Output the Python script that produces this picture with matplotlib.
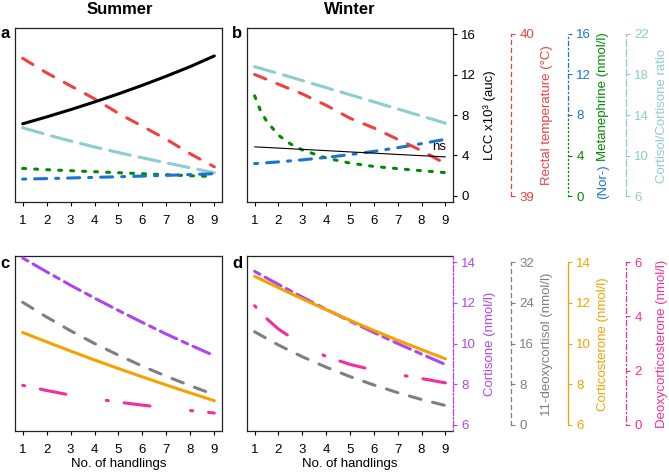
import matplotlib
matplotlib.use('Agg')
import matplotlib.pyplot as plt

plt.rcParams.update({
    'font.family': ['Liberation Sans', 'DejaVu Sans'],
    'font.size': 9.5,
    'lines.scale_dashes': False,
    'lines.dash_capstyle': 'round',
    'lines.solid_capstyle': 'round',
})

# ---- data ----
handlings = [1, 2, 3, 4, 5, 6, 7, 8, 9]

summer_lcc = [7.13, 7.81, 8.53, 9.29, 10.09, 10.94, 11.84, 12.79, 13.84]
summer_rectal = [39.85, 39.76, 39.68, 39.60, 39.51, 39.43, 39.35, 39.26, 39.18]
summer_metaneph = [2.72, 2.6, 2.5, 2.4, 2.3, 2.2, 2.1, 2.0, 1.93]
summer_normet = [1.67, 1.72, 1.78, 1.84, 1.9, 1.97, 2.04, 2.12, 2.2]
summer_ratio = [12.74, 12.06, 11.43, 10.84, 10.29, 9.77, 9.27, 8.78, 8.30]

winter_lcc = [4.85, 4.73, 4.6, 4.48, 4.35, 4.23, 4.1, 3.98, 3.86]
winter_rectal = [39.75, 39.69, 39.63, 39.56, 39.48, 39.42, 39.35, 39.28, 39.20]
winter_metaneph_x = [1, 1.25, 1.5, 2, 2.5, 3, 4, 5, 6, 7, 8, 9]
winter_metaneph = [9.9, 8.4, 7.4, 6.0, 5.15, 4.55, 3.75, 3.25, 2.92, 2.7, 2.5, 2.31]
winter_normet = [3.2, 3.37, 3.57, 3.81, 4.09, 4.41, 4.77, 5.17, 5.6]
winter_ratio = [18.77, 18.1, 17.4, 16.7, 16.0, 15.3, 14.6, 13.9, 13.19]

summer_cortisone = [14.2, 13.52, 12.86, 12.23, 11.62, 11.03, 10.46, 9.92, 9.4]
summer_deoxycortisol = [24.1, 21.2, 18.5, 16.0, 13.7, 11.55, 9.55, 7.7, 5.94]
summer_corticosterone = [10.54, 10.08, 9.63, 9.19, 8.77, 8.36, 7.96, 7.57, 7.19]
summer_doc = [1.46, 1.27, 1.1, 0.97, 0.84, 0.73, 0.63, 0.53, 0.44]

winter_cortisone = [13.54, 12.9, 12.28, 11.68, 11.1, 10.54, 10.0, 9.48, 8.97]
winter_deoxycortisol = [18.3, 15.7, 13.4, 11.35, 9.5, 7.85, 6.35, 5.0, 3.83]
winter_corticosterone = [13.3, 12.74, 12.19, 11.66, 11.14, 10.64, 10.16, 9.7, 9.25]
winter_doc_x = [1, 1.5, 2, 3, 4, 5, 6, 7, 8, 9]
winter_doc = [4.39, 3.92, 3.53, 2.95, 2.52, 2.23, 2.02, 1.86, 1.71, 1.55]

# ---- styles ----
red = '#F04040'
green = '#008B00'
blue = '#1874CD'
teal = '#8ECDCD'
purple = '#AE46F0'
gray = '#7F7F7F'
orange = '#F5A200'
pink = '#F72C9C'

PT = 72 / 100.0  # points per pixel


def dash(*px):
    return (0, [p * PT for p in px])


LW = 2.2
thick = {
    'rectal': dash(12, 12), 'ratio': dash(21, 9), 'metaneph': dash(3, 9),
    'normet': dash(3, 9, 12, 9), 'cortisone': dash(6, 6, 18, 6),
    'deoxycortisol': dash(12, 12), 'doc': dash(2, 16, 26, 41),
}
thin = {
    'rectal': dash(4, 4), 'ratio': dash(7, 3), 'metaneph': dash(1, 3),
    'normet': dash(1, 3, 4, 3), 'cortisone': dash(2, 2, 6, 2),
    'deoxycortisol': dash(4, 4), 'doc': dash(1, 3, 5, 3),
}

W, H = 669, 473
fig = plt.figure(figsize=(W / 100, H / 100), dpi=100)


def rect(l, t, r, b):
    return [l / W, 1 - b / H, (r - l) / W, (b - t) / H]


def px(x, y):
    return x / W, 1 - y / H


def setup_host(ax, xlabel=False):
    ax.set_xlim(0.68, 9.32)
    ax.set_xticks(handlings)
    ax.set_yticks([])
    ax.tick_params(axis='x', length=3, width=0.8, pad=6, labelsize=9.5)
    for s in ax.spines.values():
        s.set_linewidth(0.9)
        s.set_color('#222222')
    if xlabel:
        ax.set_xlabel('No. of handlings', labelpad=2)


def scale_axis(host, lo, hi, offset=None, color=None, ls='-', ticks=None, bounds=None):
    tw = host.twinx()
    pad = (hi - lo) * 0.037
    tw.set_ylim(lo - pad, hi + pad)
    for s in tw.spines.values():
        s.set_visible(False)
    tw.set_yticks([])
    if offset is not None:
        sp = tw.spines['right']
        sp.set_visible(True)
        sp.set_position(('outward', offset))
        sp.set_color(color)
        sp.set_linestyle(ls)
        sp.set_linewidth(0.9)
        if bounds is not None:
            sp.set_bounds(*bounds)
        tw.set_yticks(ticks)
        tw.tick_params(axis='y', colors=color, length=3, width=0.8, pad=3, labelsize=9.5)
    return tw


ax_a = fig.add_axes(rect(15, 28, 222, 202))
ax_b = fig.add_axes(rect(247, 28, 453, 202))
ax_c = fig.add_axes(rect(15, 256, 222, 431))
ax_d = fig.add_axes(rect(247, 256, 453, 431))

off1, off2, off3 = 58 * PT, 115 * PT, 173 * PT

# ---- top row ----
for ax, show in [(ax_a, False), (ax_b, True)]:
    t_ratio = scale_axis(ax, 6, 22, off3 if show else None, teal, thin['ratio'], [6, 10, 14, 18, 22], (6, 22))
    t_met = scale_axis(ax, 0, 16, off2 if show else None, green, thin['metaneph'], [0, 4], (0, 8))
    t_nor = scale_axis(ax, 0, 16, off2 if show else None, blue, thin['normet'], [8, 12, 16], (8, 16))
    t_rect = scale_axis(ax, 39, 40, off1 if show else None, red, thin['rectal'], [39, 40], (39, 40))
    if show:
        t_ratio.plot(handlings, winter_ratio, color=teal, lw=LW, ls=thick['ratio'])
        t_rect.plot(handlings, winter_rectal, color=red, lw=LW, ls=thick['rectal'])
        t_met.plot(winter_metaneph_x, winter_metaneph, color=green, lw=LW, ls=thick['metaneph'])
        t_nor.plot(handlings, winter_normet, color=blue, lw=LW, ls=thick['normet'])
    else:
        t_ratio.plot(handlings, summer_ratio, color=teal, lw=LW, ls=thick['ratio'])
        t_rect.plot(handlings, summer_rectal, color=red, lw=LW, ls=thick['rectal'])
        t_met.plot(handlings, summer_metaneph, color=green, lw=LW, ls=thick['metaneph'])
        t_nor.plot(handlings, summer_normet, color=blue, lw=LW, ls=thick['normet'])
    ax.set_ylim(-0.6, 16.6)
    setup_host(ax)
    ax.set_zorder(5)
    ax.patch.set_visible(False)

ax_a.plot(handlings, summer_lcc, color='black', lw=LW)
ax_b.plot(handlings, winter_lcc, color='black', lw=0.8)
ax_b.text(8.75, 4.85, 'ns', ha='center', va='center', fontsize=9.5)
ax_b.yaxis.tick_right()
ax_b.set_yticks([0, 4, 8, 12, 16])
ax_b.tick_params(axis='y', length=3, width=0.8, pad=3, labelsize=9.5)

# ---- bottom row ----
for ax, show in [(ax_c, False), (ax_d, True)]:
    t_cs = scale_axis(ax, 6, 14, 0 if show else None, purple, thin['cortisone'], [6, 8, 10, 12, 14], None)
    t_dc = scale_axis(ax, 0, 32, off1 if show else None, gray, thin['deoxycortisol'], [0, 8, 16, 24, 32], (0, 32))
    t_co = scale_axis(ax, 6, 14, off2 if show else None, orange, '-', [6, 8, 10, 12, 14], (6, 14))
    t_doc = scale_axis(ax, 0, 6, off3 if show else None, pink, thin['doc'], [0, 2, 4, 6], (0, 6))
    if show:
        t_cs.plot(handlings, winter_cortisone, color=purple, lw=LW, ls=thick['cortisone'])
        t_dc.plot(handlings, winter_deoxycortisol, color=gray, lw=LW, ls=thick['deoxycortisol'])
        t_co.plot(handlings, winter_corticosterone, color=orange, lw=LW)
        t_doc.plot(winter_doc_x, winter_doc, color=pink, lw=LW, ls=thick['doc'])
    else:
        t_cs.plot(handlings, summer_cortisone, color=purple, lw=LW, ls=thick['cortisone'])
        t_dc.plot(handlings, summer_deoxycortisol, color=gray, lw=LW, ls=thick['deoxycortisol'])
        t_co.plot(handlings, summer_corticosterone, color=orange, lw=LW)
        t_doc.plot(handlings, summer_doc, color=pink, lw=LW, ls=thick['doc'])
    setup_host(ax, xlabel=True)

ax_d.spines['right'].set_visible(False)

# ---- titles, panel letters, axis labels ----
fig.text(*px(120, 10), 'Summer', ha='center', va='center', fontsize=12, fontweight='bold')
fig.text(*px(350, 10), 'Winter', ha='center', va='center', fontsize=12, fontweight='bold')
for letter, (x, y) in zip('abcd', [(5, 34), (237, 34), (5, 263), (237, 263)]):
    fig.text(*px(x, y), letter, ha='center', va='center', fontsize=12, fontweight='bold')

top_mid, bot_mid = 115.5, 344
fig.text(*px(490, top_mid), 'LCC x10³ (auc)', rotation=90, ha='center', va='center')
fig.text(*px(547, top_mid), 'Rectal temperature (°C)', rotation=90, ha='center', va='center', color=red)
fig.text(*px(662, top_mid), 'Cortisol/Cortisone ratio', rotation=90, ha='center', va='center', color=teal)
fig.text(*px(490, bot_mid), 'Cortisone (nmol/l)', rotation=90, ha='center', va='center', color=purple)
fig.text(*px(547, bot_mid), '11-deoxycortisol (nmol/l)', rotation=90, ha='center', va='center', color=gray)
fig.text(*px(603, bot_mid), 'Corticosterone (nmol/l)', rotation=90, ha='center', va='center', color=orange)
fig.text(*px(662, bot_mid), 'Deoxycorticosterone (nmol/l)', rotation=90, ha='center', va='center', color=pink)

# two-coloured metanephrine label
renderer = fig.canvas.get_renderer()
t1 = fig.text(603 / W, 0, '(Nor-)', rotation=90, ha='center', va='bottom', color=blue)
t2 = fig.text(603 / W, 0, 'Metanephrine (nmol/l)', rotation=90, ha='center', va='bottom', color=green)
h1 = t1.get_window_extent(renderer).height
h2 = t2.get_window_extent(renderer).height
gap = 3.5
bottom = (H - top_mid) - (h1 + gap + h2) / 2
t1.set_y(bottom / H)
t2.set_y((bottom + h1 + gap) / H)

fig.savefig('out.png', dpi=100)
